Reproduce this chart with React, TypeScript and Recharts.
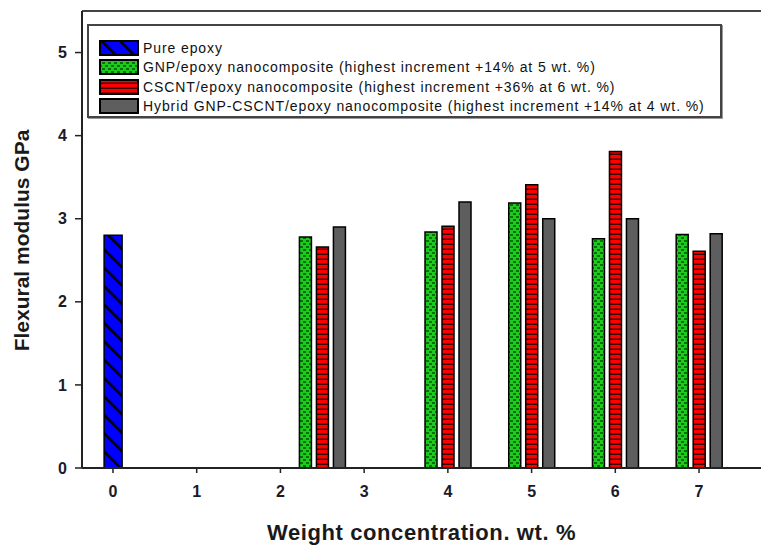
import React from 'react';
import { BarChart, Bar, XAxis, YAxis, Legend, ReferenceLine } from 'recharts';

const concentrations = [0, 2.5, 4, 5, 6, 7];
const pureEpoxy = [2.8, null, null, null, null, null];
const gnpEpoxy = [null, 2.78, 2.84, 3.19, 2.76, 2.81];
const cscntEpoxy = [null, 2.66, 2.91, 3.41, 3.81, 2.61];
const hybridEpoxy = [null, 2.9, 3.2, 3.0, 3.0, 2.82];

const xTicks = [0, 1, 2, 3, 4, 5, 6, 7];
const yTicks = [0, 1, 2, 3, 4, 5];

const seriesNames = [
  'Pure epoxy',
  'GNP/epoxy nanocomposite (highest increment +14% at 5 wt. %)',
  'CSCNT/epoxy nanocomposite (highest increment +36% at 6 wt. %)',
  'Hybrid GNP-CSCNT/epoxy nanocomposite (highest increment +14% at 4 wt. %)',
];
const seriesKeys = ['pure', 'gnp', 'cscnt', 'hybrid'];
const seriesFills = ['url(#pBlue)', 'url(#pGreen)', 'url(#pRed)', '#5e5e5e'];

const data = concentrations.map((x, i) => ({
  x,
  pure: pureEpoxy[i],
  gnp: gnpEpoxy[i],
  cscnt: cscntEpoxy[i],
  hybrid: hybridEpoxy[i],
}));

const FONT = '"Liberation Sans", Arial, sans-serif';

const LegendBox = () => (
  <div
    style={{
      width: 635,
      height: 94,
      border: '2px solid #444',
      boxShadow: '1px 1px 0 #999',
      background: '#fff',
      fontFamily: FONT,
      fontSize: 14,
      color: '#111',
      paddingTop: 12,
      paddingLeft: 10,
      boxSizing: 'border-box',
    }}
  >
    {seriesNames.map((name, i) => (
      <div key={seriesKeys[i]} style={{ display: 'flex', alignItems: 'center', height: 19.5 }}>
        <svg width={40} height={16} style={{ marginRight: 4, flex: 'none' }}>
          <rect x={1} y={1} width={38} height={14} fill={seriesFills[i]} stroke="#000" strokeWidth={2} />
        </svg>
        <span style={{ whiteSpace: 'nowrap', letterSpacing: 0.9 }}>{name}</span>
      </div>
    ))}
  </div>
);

export default function App() {
  return (
    <div style={{ position: 'absolute', left: 0, top: 0, width: 761, height: 547, background: '#fff' }}>
      <BarChart
        width={761}
        height={547}
        data={data}
        margin={{ top: 11, right: 0, bottom: 0, left: 0 }}
        barGap={5}
      >
        <defs>
          <pattern id="pBlue" width="13" height="13" patternUnits="userSpaceOnUse" patternTransform="rotate(-45)">
            <rect width="13" height="13" fill="#0000ff" />
            <rect width="2.5" height="13" fill="#000" />
          </pattern>
          <pattern id="pGreen" width="6" height="6" patternUnits="userSpaceOnUse">
            <rect width="6" height="6" fill="#1ccc1c" />
            <rect x="0" y="0" width="3" height="2" fill="#0a6e0a" />
            <rect x="3" y="3" width="3" height="2" fill="#0a6e0a" />
          </pattern>
          <pattern id="pRed" width="8" height="5" patternUnits="userSpaceOnUse">
            <rect width="8" height="5" fill="#ff0000" />
            <rect y="3.5" width="8" height="1.5" fill="#3a0000" />
          </pattern>
        </defs>
        <XAxis
          dataKey="x"
          type="number"
          domain={[-0.37, 7.74]}
          allowDataOverflow
          ticks={xTicks}
          height={79}
          axisLine={{ stroke: '#222', strokeWidth: 2 }}
          tickLine={{ stroke: '#222', strokeWidth: 1.5 }}
          tickSize={5}
          tickMargin={13}
          tick={{ fill: '#1a1a2a', fontSize: 16, fontWeight: 'bold', fontFamily: FONT }}
          label={{
            value: 'Weight concentration. wt. %',
            position: 'insideBottom',
            offset: 7,
            fill: '#1a1a1a',
            fontSize: 22,
            fontWeight: 'bold',
            fontFamily: FONT,
            letterSpacing: 0.6,
          }}
        />
        <XAxis dataKey="x" xAxisId="b" type="number" domain={[-0.37, 7.74]} allowDataOverflow ticks={xTicks} hide />
        <YAxis
          type="number"
          domain={[0, 5.5]}
          ticks={yTicks}
          width={82}
          allowDataOverflow
          axisLine={{ stroke: '#222', strokeWidth: 2 }}
          tickLine={{ stroke: '#222', strokeWidth: 1.5 }}
          tickSize={7}
          tickMargin={8}
          tick={{ fill: '#1a1a2a', fontSize: 16, fontWeight: 'bold', fontFamily: FONT }}
          label={{
            value: 'Flexural modulus GPa',
            angle: -90,
            position: 'center',
            dx: -19,
            dy: 1,
            fill: '#1a1a1a',
            fontSize: 21,
            fontWeight: 'bold',
            fontFamily: FONT,
          }}
        />
        <ReferenceLine y={5.5} stroke="#444" strokeWidth={2} />
        <Legend
          layout="vertical"
          align="center"
          verticalAlign="middle"
          wrapperStyle={{ left: 87, top: 24, width: 635, height: 94 }}
          content={() => <LegendBox />}
        />
        <Bar dataKey="pure" xAxisId="b" fill={seriesFills[0]} stroke="#000" strokeWidth={1.5} barSize={18} isAnimationActive={false} />
        <Bar dataKey="gnp" fill={seriesFills[1]} stroke="#000" strokeWidth={1.5} barSize={12} isAnimationActive={false} />
        <Bar dataKey="cscnt" fill={seriesFills[2]} stroke="#000" strokeWidth={1.5} barSize={12} isAnimationActive={false} />
        <Bar dataKey="hybrid" fill={seriesFills[3]} stroke="#000" strokeWidth={1.5} barSize={12} isAnimationActive={false} />
      </BarChart>
    </div>
  );
}
